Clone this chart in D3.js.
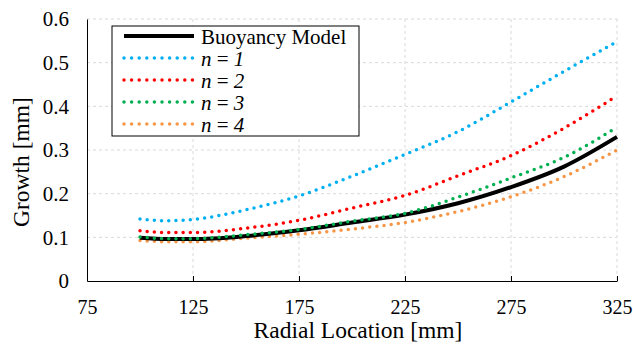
<!DOCTYPE html>
<html>
<head>
<meta charset="utf-8">
<script src="https://cdn.jsdelivr.net/npm/d3@7"></script>
<style>
  body { margin: 0; background: #fff; }
  svg text { font-family: 'Liberation Serif', 'DejaVu Serif', serif; fill: #000; }
</style>
</head>
<body>
<div id="chart"></div>
<script>
// radial location [mm]
const radial = [100, 112.5, 125, 150, 175, 200, 225, 250, 275, 300, 325];
// growth [mm]
const buoyancy = [0.099, 0.096, 0.096, 0.103, 0.116, 0.134, 0.152, 0.178, 0.215, 0.262, 0.330];
const n1 = [0.142, 0.138, 0.141, 0.163, 0.195, 0.240, 0.290, 0.342, 0.410, 0.480, 0.548];
const n2 = [0.115, 0.111, 0.111, 0.121, 0.139, 0.167, 0.196, 0.241, 0.287, 0.350, 0.424];
const n3 = [0.101, 0.097, 0.097, 0.106, 0.118, 0.137, 0.155, 0.192, 0.236, 0.283, 0.352];
const n4 = [0.093, 0.090, 0.090, 0.098, 0.107, 0.119, 0.134, 0.159, 0.193, 0.239, 0.300];

const xTicks = [75, 125, 175, 225, 275, 325];
const yTicks = [0, 0.1, 0.2, 0.3, 0.4, 0.5, 0.6];

const series = [
  { name: "Buoyancy Model", values: buoyancy, color: "#000000", solid: true },
  { name: "n = 1", n: "1", values: n1, color: "#00B0F0" },
  { name: "n = 2", n: "2", values: n2, color: "#FF0000" },
  { name: "n = 3", n: "3", values: n3, color: "#00B050" },
  { name: "n = 4", n: "4", values: n4, color: "#F79646" }
];

const width = 633, height = 347;
const margin = { left: 87, right: 16, top: 19, bottom: 66 };
const w = width - margin.left - margin.right;
const h = height - margin.top - margin.bottom;

const svg = d3.select("#chart").append("svg")
  .attr("width", width)
  .attr("height", height);

const g = svg.append("g")
  .attr("transform", "translate(" + margin.left + "," + margin.top + ")");

const x = d3.scaleLinear().domain([75, 325]).range([0, w]);
const y = d3.scaleLinear().domain([0, 0.6]).range([h, 0]);

// gridlines
g.append("g").selectAll("line")
  .data(yTicks.slice(1))
  .enter().append("line")
  .attr("x1", 0).attr("x2", w)
  .attr("y1", d => y(d)).attr("y2", d => y(d))
  .attr("stroke", "#d9d9d9")
  .attr("stroke-dasharray", "3,3");

g.append("g").selectAll("line")
  .data(xTicks.slice(1))
  .enter().append("line")
  .attr("x1", d => x(d)).attr("x2", d => x(d))
  .attr("y1", 0).attr("y2", h)
  .attr("stroke", "#d9d9d9")
  .attr("stroke-dasharray", "3,3");

// x axis
const xAxis = g.append("g")
  .attr("transform", "translate(0," + h + ")")
  .call(d3.axisBottom(x).tickValues(xTicks).tickSizeInner(-5).tickSizeOuter(0).tickPadding(19));
xAxis.attr("font-family", null);
xAxis.select(".domain").attr("stroke", "#000");
xAxis.selectAll(".tick line").attr("stroke", "#000");
xAxis.selectAll("text").attr("font-size", 20);

// y axis
const yAxis = g.append("g")
  .call(d3.axisLeft(y).tickValues(yTicks).tickSize(0).tickPadding(18).tickFormat(d => d === 0 ? "0" : d3.format(".1f")(d)));
yAxis.attr("font-family", null);
yAxis.select(".domain").attr("stroke", "#000");
yAxis.selectAll("text").attr("font-size", 21);

// lines
const line = d3.line()
  .x((d, i) => x(radial[i]))
  .y(d => y(d))
  .curve(d3.curveMonotoneX);

const dotted = series.filter(s => !s.solid);
const linesG = g.append("g");
// draw order: n=1, n=2, n=4, buoyancy, n=3 (green sits on top of black)
[dotted[0], dotted[1], dotted[3], series[0], dotted[2]].forEach(s => {
  const p = linesG.append("path")
    .datum(s.values)
    .attr("d", line)
    .attr("fill", "none")
    .attr("stroke", s.color);
  if (s.solid) {
    p.attr("stroke-width", 4);
  } else {
    p.attr("stroke-width", 3.5)
      .attr("stroke-linecap", "round")
      .attr("stroke-dasharray", "0,7.2");
  }
});

// legend
const lg = svg.append("g").attr("transform", "translate(112,26)");
lg.append("rect")
  .attr("width", 247).attr("height", 110)
  .attr("fill", "#fff")
  .attr("stroke", "#000")
  .attr("stroke-width", 1);

series.forEach((s, i) => {
  const yy = 10 + i * 22;
  const row = lg.append("g").attr("transform", "translate(0," + yy + ")");
  const l = row.append("line")
    .attr("x1", 12).attr("x2", 82)
    .attr("y1", 0).attr("y2", 0)
    .attr("stroke", s.color);
  if (s.solid) {
    l.attr("stroke-width", 4);
  } else {
    l.attr("stroke-width", 3.5)
      .attr("stroke-linecap", "round")
      .attr("stroke-dasharray", "0,7.6");
  }
  const t = row.append("text")
    .attr("x", 89).attr("y", 7.5)
    .attr("font-size", 21);
  if (s.solid) {
    t.text(s.name);
  } else {
    t.append("tspan").attr("font-style", "italic").text("n");
    t.append("tspan").text(" = ");
    t.append("tspan").attr("font-style", "italic").text(s.n);
  }
});

// axis titles
svg.append("text")
  .attr("x", 358)
  .attr("y", 338)
  .attr("text-anchor", "middle")
  .attr("font-size", 23.5)
  .text("Radial Location [mm]");

svg.append("text")
  .attr("transform", "translate(29,162) rotate(-90)")
  .attr("text-anchor", "middle")
  .attr("font-size", 23.5)
  .text("Growth [mm]");
</script>
</body>
</html>
